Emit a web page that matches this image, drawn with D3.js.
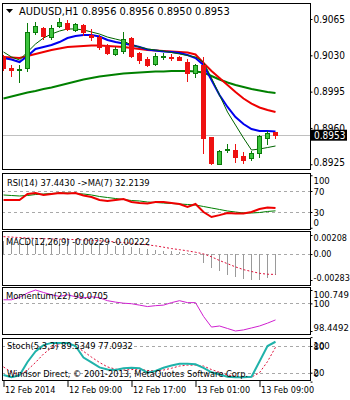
<!DOCTYPE html>
<html>
<head>
<meta charset="utf-8">
<script src="https://cdn.jsdelivr.net/npm/d3@7"></script>
<style>
body { margin: 0; background: #fff; }
text { font-family: "DejaVu Sans Condensed", "DejaVu Sans", sans-serif; }
</style>
</head>
<body>
<script>
// AUDUSD H1 bars, 12 Feb 01:00 .. 13 Feb 11:00
var opens  = [0.9028, 0.9018, 0.9016, 0.9017, 0.9052, 0.9056, 0.9047, 0.9058, 0.9061, 0.9054, 0.9059, 0.9050, 0.9048, 0.9040, 0.9031, 0.9034, 0.9047, 0.9032, 0.9026, 0.9021, 0.9028, 0.9028, 0.9028, 0.9024, 0.9013, 0.9021, 0.8951, 0.8925, 0.8939, 0.8939, 0.8933, 0.8931, 0.8936, 0.8950, 0.8956];
var highs  = [0.9030, 0.9021, 0.9021, 0.9061, 0.9062, 0.9057, 0.9059, 0.9066, 0.9064, 0.9061, 0.9060, 0.9055, 0.9050, 0.9041, 0.9038, 0.9052, 0.9048, 0.9033, 0.9028, 0.9032, 0.9032, 0.9031, 0.9029, 0.9026, 0.9022, 0.9028, 0.8951, 0.8939, 0.8945, 0.8945, 0.8937, 0.8938, 0.8953, 0.8957, 0.8956];
var lows   = [0.9016, 0.9010, 0.9004, 0.9015, 0.9051, 0.9046, 0.9046, 0.9057, 0.9054, 0.9053, 0.9050, 0.9045, 0.9036, 0.9031, 0.9030, 0.9032, 0.9028, 0.9023, 0.9020, 0.9021, 0.9026, 0.9025, 0.9025, 0.9005, 0.9009, 0.8936, 0.8925, 0.8925, 0.8937, 0.8927, 0.8926, 0.8929, 0.8932, 0.8945, 0.8950];
var closes = [0.9017, 0.9016, 0.9017, 0.9052, 0.9058, 0.9048, 0.9056, 0.9062, 0.9055, 0.9060, 0.9052, 0.9048, 0.9038, 0.9032, 0.9036, 0.9046, 0.9030, 0.9025, 0.9020, 0.9029, 0.9029, 0.9027, 0.9025, 0.9013, 0.9021, 0.8951, 0.8926, 0.8938, 0.8940, 0.8932, 0.8929, 0.8936, 0.8952, 0.8955, 0.8953];

// moving averages on the price chart
var maBlue  = [0.90274, 0.90260, 0.90235, 0.90293, 0.90361, 0.90380, 0.90399, 0.90428, 0.90467, 0.90486, 0.90496, 0.90496, 0.90481, 0.90448, 0.90428, 0.90414, 0.90399, 0.90380, 0.90356, 0.90346, 0.90337, 0.90332, 0.90322, 0.90303, 0.90274, 0.90207, 0.90062, 0.89917, 0.89802, 0.89705, 0.89638, 0.89590, 0.89570, 0.89570, 0.89565];
var maRed   = [0.90284, 0.90279, 0.90274, 0.90293, 0.90313, 0.90332, 0.90351, 0.90366, 0.90380, 0.90385, 0.90390, 0.90395, 0.90395, 0.90390, 0.90385, 0.90380, 0.90370, 0.90361, 0.90351, 0.90346, 0.90342, 0.90337, 0.90332, 0.90327, 0.90308, 0.90226, 0.90149, 0.90081, 0.90014, 0.89946, 0.89884, 0.89835, 0.89797, 0.89773, 0.89753];
var maGreen = [0.89884, 0.89903, 0.89922, 0.89941, 0.89956, 0.89975, 0.89990, 0.90009, 0.90028, 0.90047, 0.90067, 0.90081, 0.90096, 0.90105, 0.90115, 0.90125, 0.90129, 0.90134, 0.90139, 0.90144, 0.90144, 0.90149, 0.90149, 0.90149, 0.90144, 0.90134, 0.90101, 0.90067, 0.90038, 0.90014, 0.89994, 0.89975, 0.89961, 0.89946, 0.89937];
var maThin  = [0.90332, 0.90284, 0.90255, 0.90332, 0.90409, 0.90467, 0.90505, 0.90534, 0.90554, 0.90554, 0.90544, 0.90525, 0.90505, 0.90476, 0.90457, 0.90438, 0.90399, 0.90380, 0.90361, 0.90351, 0.90342, 0.90327, 0.90313, 0.90298, 0.90284, 0.90235, 0.90081, 0.89917, 0.89753, 0.89628, 0.89503, 0.89387, 0.89397, 0.89411, 0.89426];

// indicators
var rsi   = [52.9, 52.9, 52.9, 64.3, 66.2, 62.4, 64.3, 66.2, 65.2, 66.2, 61.4, 58.6, 52.9, 51.0, 52.9, 54.8, 49.0, 47.1, 46.2, 49.0, 49.0, 47.1, 45.2, 39.5, 45.2, 30.0, 20.5, 24.0, 28.0, 27.0, 27.0, 30.0, 35.7, 38.6, 37.4430];
var rsiMa = [62.4, 61.4, 60.5, 61.4, 63.3, 64.3, 65.2, 66.2, 66.2, 65.2, 64.3, 62.4, 59.5, 57.6, 55.7, 53.8, 51.9, 51.0, 49.0, 48.1, 47.1, 46.2, 45.2, 44.3, 43.3, 40.5, 37.6, 34.8, 31.9, 30.0, 28.1, 28.1, 29.0, 31.0, 32.2139];
var macd       = [0.0014, 0.0013, 0.0012, 0.0014, 0.0015, 0.0015, 0.0015, 0.0016, 0.0016, 0.0016, 0.0015, 0.0014, 0.0012, 0.0010, 0.0009, 0.0009, 0.0008, 0.0007, 0.0005, 0.0004, 0.00035, 0.0003, 0.00025, 0.0001, 0.00005, -0.0010, -0.00155, -0.0019, -0.00225, -0.00254, -0.0027, -0.00283, -0.0028, -0.0026, -0.00229];
var macdSignal = [0.0019, 0.00185, 0.0018, 0.00175, 0.0017, 0.00168, 0.00165, 0.00163, 0.0016, 0.00158, 0.00155, 0.0015, 0.00145, 0.0014, 0.00132, 0.00125, 0.00118, 0.0011, 0.0010, 0.0009, 0.00075, 0.0006, 0.00048, 0.00035, 0.0002, 0.00002, -0.0003, -0.0007, -0.00105, -0.0014, -0.0017, -0.0019, -0.0021, -0.0022, -0.00222];
var momentum = [100.20, 100.20, 100.34, 100.58, 100.749, 100.61, 100.48, 100.39, 100.48, 100.37, 100.31, 100.37, 100.31, 100.15, 100.07, 100.01, 99.98, 99.90, 99.82, 99.87, 99.90, 100.04, 100.15, 100.04, 100.04, 99.27, 98.67, 98.73, 98.59, 98.4492, 98.51, 98.62, 98.73, 98.89, 99.0705];
var stochMain   = [15, 10, 14, 44, 68, 82, 87, 87, 87, 80, 54, 43, 32, 27, 26, 30, 31, 30, 20, 24, 31, 36, 40, 40, 39, 31, 21, 16, 11, 10, 10, 11, 45, 80, 89.5349];
var stochSignal = [33, 21, 15, 26, 43, 62, 76, 85, 86, 80, 68, 55, 43, 33, 28, 26, 27, 28, 25, 24, 26, 30, 35, 37, 37, 35, 27, 21, 15, 12, 10, 10, 20, 45, 77.0932];

// axes
var priceTicks = [0.9065, 0.9030, 0.8995, 0.8960, 0.8925];
var timeTickBars = [0, 8, 16, 24, 32];
var timeLabels = ["12 Feb 2014", "12 Feb 09:00", "12 Feb 17:00", "13 Feb 01:00", "13 Feb 09:00"];
var bid = 0.8953;

var width = 350, height = 400;
var left = 2, right = 310;
var n = closes.length;
var svg = d3.select("body").append("svg")
    .attr("width", width)
    .attr("height", height);

var x = d3.scaleLinear().domain([0, n - 1]).range([3, 275]);
var px = function (d, i) { return x(i) + 0.5; };
var minus = function (s) { return s.replace("\u2212", "-"); };

function panel(name, top, bottom) {
    svg.append("clipPath").attr("id", "clip-" + name)
        .append("rect").attr("x", left + 1).attr("y", top + 1)
        .attr("width", right - left - 1).attr("height", bottom - top - 1);
    svg.append("rect")
        .attr("x", left + 0.5).attr("y", top + 0.5)
        .attr("width", right - left).attr("height", bottom - top)
        .attr("fill", "#fff").attr("stroke", "#000");
    return svg.append("g").attr("clip-path", "url(#clip-" + name + ")");
}

function levels(g, scale, vals) {
    g.selectAll(null).data(vals).enter().append("line")
        .attr("x1", left).attr("x2", right)
        .attr("y1", function (d) { return Math.round(scale(d)) + 0.5; })
        .attr("y2", function (d) { return Math.round(scale(d)) + 0.5; })
        .attr("stroke", "#a8a8a8").attr("stroke-dasharray", "3,3");
}

function rightAxis(scale, vals, fmt, top, bottom, size) {
    var g = svg.append("g").attr("transform", "translate(" + (right + 0.5) + ",0)")
        .call(d3.axisRight(scale).tickValues(vals).tickSize(2).tickPadding(1).tickFormat(fmt));
    g.select(".domain").remove();
    g.selectAll(".tick line").attr("stroke", "#000");
    g.selectAll(".tick text")
        .attr("font-family", null).attr("font-size", size).attr("fill", "#000")
        .attr("y", function (d) {
            var p = scale(d), c = Math.max(top + 7, Math.min(bottom - 7, p));
            return c - p;
        });
    return g;
}

function drawLine(g, data, scale, color, w, dash) {
    g.append("path")
        .attr("d", d3.line().x(px).y(function (d) { return scale(d); })(data))
        .attr("fill", "none").attr("stroke", color).attr("stroke-width", w)
        .attr("stroke-dasharray", dash || null);
}

function label(txt, xx, yy, size) {
    return svg.append("text").attr("x", xx).attr("y", yy)
        .attr("font-size", size).attr("fill", "#000").text(txt);
}

// main price panel
var yMain = d3.scaleLinear().domain([0.8925, 0.9065]).range([164.25, 19]);
var gMain = panel("main", 3, 169);
gMain.append("line")
    .attr("x1", left).attr("x2", right)
    .attr("y1", Math.round(yMain(bid)) + 0.5).attr("y2", Math.round(yMain(bid)) + 0.5)
    .attr("stroke", "#c0c0c0");
drawLine(gMain, maGreen, yMain, "#008000", 2);
drawLine(gMain, maRed, yMain, "#ee0000", 2);
drawLine(gMain, maBlue, yMain, "#0000ee", 2);
drawLine(gMain, maThin, yMain, "#006400", 1);

var bars = gMain.selectAll(".bar").data(closes).enter().append("g").attr("class", "bar");
bars.append("line")
    .attr("x1", px).attr("x2", px)
    .attr("y1", function (d, i) { return Math.round(yMain(highs[i])); })
    .attr("y2", function (d, i) { return Math.round(yMain(lows[i])) + 1; })
    .attr("stroke", function (d, i) { return d >= opens[i] ? "#0a7a0a" : "#ee1111"; });
bars.append("rect")
    .attr("x", function (d, i) { return x(i) - 1.5; })
    .attr("width", 4)
    .attr("y", function (d, i) { return Math.round(yMain(Math.max(d, opens[i]))) + 0.5; })
    .attr("height", function (d, i) { return Math.max(0, Math.round(Math.abs(yMain(d) - yMain(opens[i])))); })
    .attr("fill", function (d, i) { return d >= opens[i] ? "#3dc43d" : "#ee1111"; })
    .attr("stroke", function (d, i) { return d >= opens[i] ? "#0a7a0a" : "#ee1111"; });

rightAxis(yMain, priceTicks, d3.format(".4f"), 3, 169, 10);
svg.append("rect")
    .attr("x", right + 1).attr("y", yMain(bid) - 5.5)
    .attr("width", 36).attr("height", 11).attr("fill", "#000");
svg.append("text").attr("x", right + 4).attr("y", yMain(bid) + 3.5)
    .attr("font-size", 10).attr("fill", "#fff").text(d3.format(".4f")(bid));

svg.append("path").attr("d", "M6,9L13,9L9.5,13Z").attr("fill", "#000");
label("AUDUSD,H1  " + [opens[n - 1], highs[n - 1], lows[n - 1], closes[n - 1]].map(d3.format(".4f")).join(" "), 19, 15, 11);

// RSI
var yRsi = d3.scaleLinear().domain([0, 100]).range([227.75, 175.25]);
var gRsi = panel("rsi", 173, 229);
levels(gRsi, yRsi, [70, 30]);
drawLine(gRsi, rsiMa, yRsi, "#008000", 1);
drawLine(gRsi, rsi, yRsi, "#ee0000", 2);
rightAxis(yRsi, [100, 70, 30, 0], d3.format("d"), 173, 229, 9.5);
label("RSI(14) " + rsi[n - 1].toFixed(4) + "  ->MA(7) " + rsiMa[n - 1].toFixed(4), 7, 186, 9.3);

// MACD
var yMacd = d3.scaleLinear().domain([-0.00283, 0.00208]).range([280, 235]);
var gMacd = panel("macd", 231, 285);
levels(gMacd, yMacd, [0]);
gMacd.selectAll(".hist").data(macd).enter().append("line")
    .attr("x1", px).attr("x2", px)
    .attr("y1", Math.round(yMacd(0)))
    .attr("y2", function (d) { return Math.round(yMacd(d)); })
    .attr("stroke", "#9a9a9a");
drawLine(gMacd, macdSignal, yMacd, "#e0103a", 1, "2,2");
rightAxis(yMacd, [0.00208, 0, -0.00283], function (d) { return d === 0 ? "0.00" : minus(d3.format(".5f")(d)); }, 231, 285, 9);
label("MACD(12,26,9) " + macd[n - 1].toFixed(5) + " " + macdSignal[n - 1].toFixed(5), 6, 245, 9.3);

// Momentum
var yMom = d3.scaleLinear().domain([98.4492, 100.749]).range([331, 290]);
var gMom = panel("mom", 287, 334);
levels(gMom, yMom, [100]);
drawLine(gMom, momentum, yMom, "#d020d0", 1);
rightAxis(yMom, [100.749, 100, 98.4492], function (d) { return String(d); }, 287, 334, 9.5);
label("Momentum(22) " + momentum[n - 1].toFixed(4), 6, 299, 9.3);

// Stochastic
var ySto = d3.scaleLinear().domain([0, 100]).range([381.6, 337.1]);
var gSto = panel("sto", 338, 380);
levels(gSto, ySto, [80, 20]);
drawLine(gSto, stochSignal, ySto, "#e0103a", 1, "2,2");
drawLine(gSto, stochMain, ySto, "#20b2aa", 2);
rightAxis(ySto, [100, 80, 20, 0], d3.format("d"), 338, 380, 9.5);
label("Stoch(5,3,3) " + stochMain[n - 1].toFixed(4) + " " + stochSignal[n - 1].toFixed(4), 7, 349, 9.3);
label("Windsor Direct, \u00a9 2001-2013, MetaQuotes Software Corp.", 7, 377, 9.2);

// time axis
var gTime = svg.append("g").attr("transform", "translate(0.5,380)")
    .call(d3.axisBottom(x).tickValues(timeTickBars).tickSize(7).tickPadding(0)
        .tickFormat(function (d, i) { return timeLabels[i]; }));
gTime.select(".domain").remove();
gTime.selectAll(".tick line").attr("stroke", "#000");
gTime.selectAll(".tick text")
    .attr("font-family", null).attr("font-size", 9).attr("fill", "#000")
    .attr("text-anchor", "start").attr("x", 1);
</script>
</body>
</html>
